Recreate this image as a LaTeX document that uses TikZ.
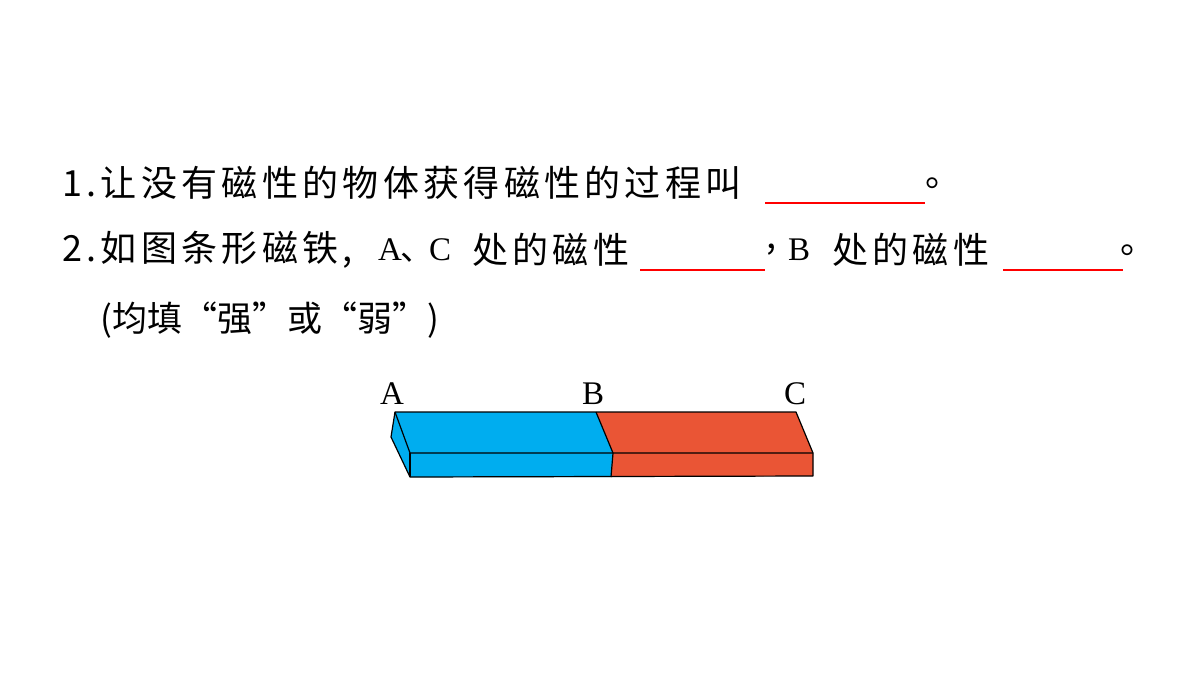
\documentclass[tikz,border=0pt]{standalone}
\usepackage{fontspec}
\newfontfamily\cjk[LetterSpace=12]{Noto Sans CJK SC}
\newfontfamily\cjkn{Noto Sans CJK SC}
\setmainfont{Liberation Serif}
\begin{document}
\begin{tikzpicture}[x=1pt,y=-1pt,
  t/.style={anchor=west,inner sep=0pt,font=\cjk\fontsize{36}{40}\selectfont},
  s/.style={anchor=west,inner sep=0pt,font=\fontsize{33}{36}\selectfont},
  blank/.style={draw=red,line width=1.2pt},
  edge/.style={draw=black,line width=1.2pt,line join=round}]
\useasboundingbox (0,0) rectangle (1200,675);
\node[t] (l1) at (62,183) {1.让没有磁性的物体获得磁性的过程叫};
\coordinate (u1a) at (765,203); \coordinate (u1b) at (925,203);
\draw[blank] (u1a) -- (u1b);
\node[t] (p1) at (925,183) {。};
\node[t] (l2) at (62,250) {2.如图条形磁铁,};
\node[s] (ac) at (378,250) {A\hspace{-2pt}{\cjkn 、}\hspace{-4pt}C};
\node[t] (l2b) at (472,250) {处的磁性};
\coordinate (u2a) at (640,270); \coordinate (u2b) at (765,270);
\draw[blank] (u2a) -- (u2b);
\node[t] (l2c) at (766,250) {,};
\node[s] (bb) at (788,250) {B};
\node[t] (l2d) at (832,250) {处的磁性};
\coordinate (u3a) at (1003,270); \coordinate (u3b) at (1123,270);
\draw[blank] (u3a) -- (u3b);
\node[t] (p2) at (1120,250) {。};
\node[t,font=\cjkn\fontsize{35}{40}\selectfont] (l3) at (100,320) {(均填“强”或“弱”)};
% magnet
\fill[fill=cyan] (395,412) -- (596,412) -- (613,453) -- (611,477) -- (410,477) -- (391,437) -- cycle;
\fill[fill={rgb,255:red,234;green,85;blue,53}] (596,412) -- (796,412) -- (813,453) -- (813,476) -- (611,477) -- (613,453) -- cycle;
\draw[edge] (395,412) -- (796,412) -- (813,453) -- (813,476) -- (410,477) -- (391,437) -- cycle;
\draw[edge] (395,412) -- (410,453) -- (813,453);
\draw[edge] (410,453) -- (410,477);
\draw[edge] (596,412) -- (613,453) -- (611,477);
\node[s,anchor=base] (A) at (392,404) {A};
\node[s,anchor=base] (B) at (593,404) {B};
\node[s,anchor=base] (C) at (795,404) {C};
\end{tikzpicture}
\end{document}
